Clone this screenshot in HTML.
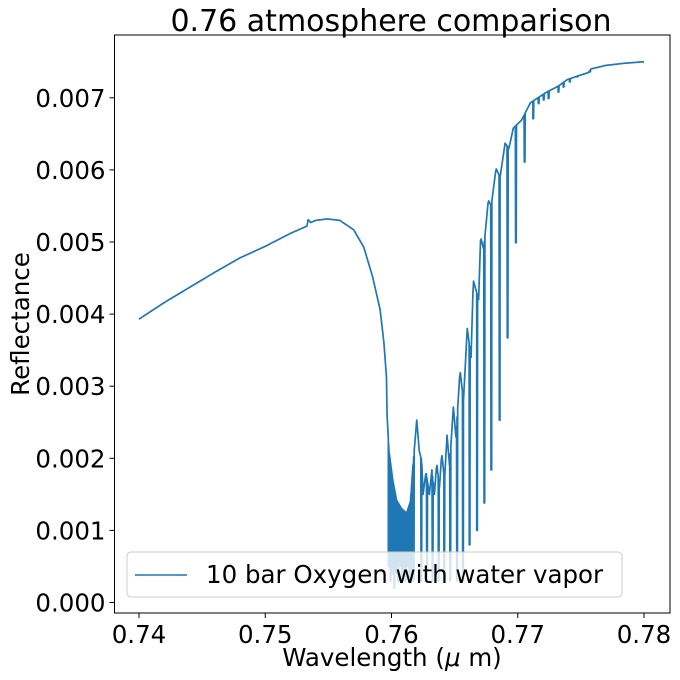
<!DOCTYPE html>
<html><head><meta charset="utf-8"><style>
html,body{margin:0;padding:0;background:#fff;}
svg{display:block;font-family:"DejaVu Sans","Liberation Sans",sans-serif;}
</style></head><body>
<svg id="chart" width="680" height="680" viewBox="0 0 680 680">
<text x="391" y="31" font-size="30" text-anchor="middle" fill="#000">0.76 atmosphere comparison</text>
<g id="plot"></g>
<text x="392" y="666" font-size="24.5" text-anchor="middle" fill="#000">Wavelength (<tspan font-style="italic">μ</tspan> m)</text>
<text transform="translate(29,324) rotate(-90)" font-size="24.5" text-anchor="middle" fill="#000">Reflectance</text>
</svg>
<script>
const contWl=[0.740,0.742,0.744,0.746,0.748,0.750,0.752,0.7533,0.7534,0.7536,0.7540,0.7549,0.7559,0.7570,0.7578,0.7585,0.7591,0.7594,0.7596,0.75965,0.7598,0.7601,0.7604,0.7608,0.7612,0.7615,0.7617,0.7620,0.7622,0.76239,0.7625,0.76273,0.7630,0.7632,0.7634,0.76358,0.7638,0.76398,0.7642,0.7644,0.7646,0.7649,0.7651,0.76543,0.7657,0.7660,0.7663,0.76648,0.7669,0.76706,0.7673,0.76767,0.7679,0.76828,0.7686,0.7690,0.7693,0.76965,0.7703,0.7710,0.7716,0.7723,0.7732,0.7739,0.7747,0.7756,0.7758,0.7770,0.7785,0.7800];
const contR=[0.00393,0.00416,0.00437,0.00458,0.00478,0.00494,0.00512,0.00522,0.00531,0.00527,0.0053,0.00532,0.0053,0.00517,0.00493,0.00452,0.00406,0.0036,0.00313,0.0026,0.0021,0.0017,0.00142,0.0013,0.00124,0.0014,0.0019,0.00253,0.0021,0.00197,0.0015,0.00181,0.0015,0.00184,0.0015,0.00193,0.0016,0.00207,0.0017,0.00232,0.0019,0.00271,0.0023,0.00322,0.0028,0.0038,0.0034,0.00447,0.0042,0.00507,0.0049,0.00558,0.0055,0.00602,0.0059,0.00637,0.0063,0.00658,0.00669,0.00693,0.0070,0.00708,0.00716,0.00725,0.0073,0.00735,0.0074,0.00745,0.00748,0.0075];
const dipWl=[0.75975,0.7599,0.76005,0.7602,0.76035,0.7605,0.76065,0.7608,0.76095,0.7611,0.76125,0.7614,0.76155,0.76173,0.76234,0.76279,0.76323,0.76371,0.76415,0.76463,0.76517,0.76564,0.76616,0.76675,0.76733,0.76788,0.76854,0.76917,0.76983,0.77052,0.7712,0.77163,0.77203,0.77242,0.7732,0.7736,0.7741,0.7747,0.7757];
const dipR=[0.0005,0.0003,0.0004,0.0002,0.0004,0.0003,0.0005,0.0003,0.0004,0.0003,0.0005,0.0003,0.0004,0.0003,0.0003,0.0003,0.0003,0.0003,0.0003,0.0003,0.0003,0.0003,0.0008,0.0010,0.00138,0.00184,0.00253,0.00367,0.00499,0.00611,0.00671,0.00692,0.00697,0.00699,0.00708,0.00715,0.00722,0.00729,0.00736];
const xTicks=[0.74,0.75,0.76,0.77,0.78];
const yTicks=[0,0.001,0.002,0.003,0.004,0.005,0.006,0.007];

const L=114.5,R=670,T=35,B=613;
const sx=w=>139+(w-0.74)*12625;
const sy=v=>602.5-v*72100;
const NS='http://www.w3.org/2000/svg';
const g=document.getElementById('plot');
function mk(t,a){const e=document.createElementNS(NS,t);for(const k in a)e.setAttribute(k,a[k]);return e;}
function cont(w){for(let i=0;i<contWl.length-1;i++){if(w>=contWl[i]&&w<=contWl[i+1]){const f=(w-contWl[i])/(contWl[i+1]-contWl[i]);return contR[i]+f*(contR[i+1]-contR[i]);}}return contR[contR.length-1];}
const pts=[];
for(let w=0.740;w<=0.78+1e-9;w+=0.00005)pts.push([w,cont(w)]);
const hw=0.00002;
dipWl.forEach((w,i)=>{
  [w,w+0.00005].forEach(c=>{
    pts.push([c-hw,cont(c-hw)]);pts.push([c,dipR[i]]);pts.push([c+hw,cont(c+hw)]);
  });
});
pts.sort((a,b)=>a[0]-b[0]);
const d=pts.map((p,i)=>(i?'L':'M')+sx(p[0]).toFixed(2)+','+sy(p[1]).toFixed(2)).join('');
const line=mk('path',{d:d,fill:'none',stroke:'#1f77b4','stroke-width':'1.7','stroke-linejoin':'round'});


g.appendChild(line);
const lg=mk('g',{});


lg.appendChild(mk('rect',{x:127,y:552,width:495,height:45,rx:4,fill:'#fff','fill-opacity':'0.8',stroke:'#ccc','stroke-width':'1'}));
lg.appendChild(mk('line',{x1:135,y1:575,x2:187,y2:575,stroke:'#1f77b4','stroke-width':'1.6'}));
const lt=mk('text',{x:206,y:583,'font-size':'24.5',fill:'#000'});lt.textContent='10 bar Oxygen with water vapor';


lg.appendChild(lt);
g.appendChild(lg);
const fr=mk('rect',{x:L,y:T,width:R-L,height:B-T,fill:'none',stroke:'#000','stroke-width':'1'});


g.appendChild(fr);
xTicks.forEach(v=>{const x=sx(v);
 g.appendChild(mk('line',{x1:x,y1:B,x2:x,y2:B+5,stroke:'#000'}));
 const t=mk('text',{x:x,y:B+30,'font-size':'24.5','text-anchor':'middle',fill:'#000'});t.textContent=v.toFixed(2);
 
 
 g.appendChild(t);});
yTicks.forEach(v=>{const y=sy(v);
 g.appendChild(mk('line',{x1:L-5,y1:y,x2:L,y2:y,stroke:'#000'}));
 const t=mk('text',{x:L-9,y:y+9,'font-size':'24.5','text-anchor':'end',fill:'#000'});t.textContent=v.toFixed(3);
 
 
 g.appendChild(t);});
</script>
</body></html>
